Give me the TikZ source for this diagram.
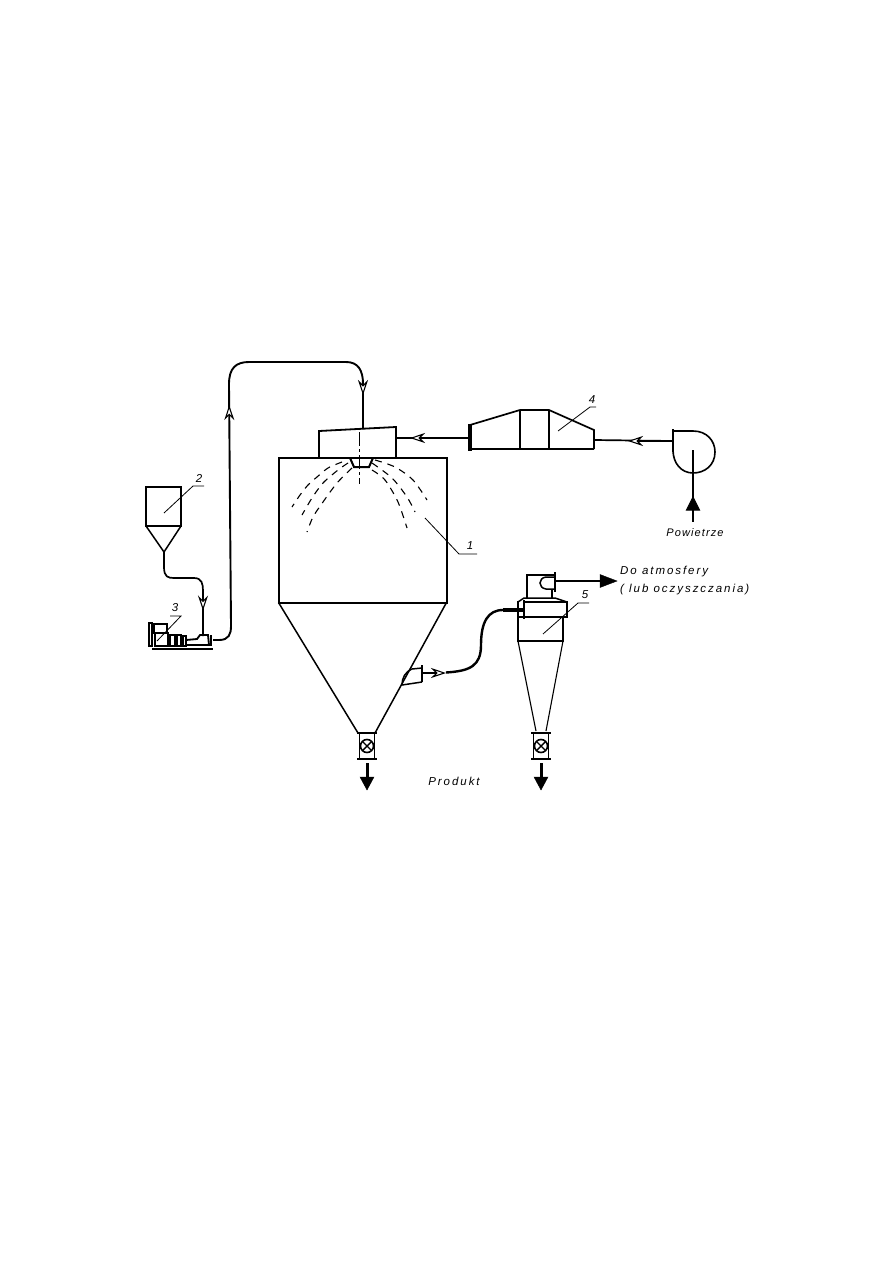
\documentclass[tikz,border=0pt]{standalone}
\usepackage{fontspec}
\setmainfont{Liberation Sans}
\usetikzlibrary{arrows.meta, decorations.markings}
\begin{document}
\begin{tikzpicture}[
    x=1pt, y=-1pt,
    wall/.style={draw=black, line width=1.5pt},
    thin wall/.style={draw=black, line width=1.1pt},
    box/.style={rectangle, wall, inner sep=0pt, outer sep=0pt},
    pipe/.style={draw=black, line width=1.7pt, rounded corners=1pt},
    heavy/.style={draw=black, line width=2.8pt},
    leader/.style={draw=black, line width=0.8pt},
    spray/.style={draw=black, line width=1.1pt, dash pattern=on 7pt off 6pt},
    axis line/.style={draw=black, line width=0.8pt, dash pattern=on 14pt off 3pt on 3pt off 3pt},
    openarr/.style={draw=black, line width=1.1pt, -{Stealth[open, fill=white, length=15pt, width=10pt, inset=5pt]}},
    flowmark/.style={postaction={decorate}, decoration={markings, mark=at position #1 with {\arrow[black, line width=1.1pt]{Stealth[open, fill=white, length=15pt, width=10pt, inset=5pt]}}}},
    tag/.style={font=\itshape\fontsize{11.5}{13}\selectfont\addfontfeature{LetterSpace=17}, inner sep=0pt},
]
\useasboundingbox (0,0) rectangle (893,1263);

% Spray chamber
\node[box, line width=2pt, minimum width=168, minimum height=145] (chamber) at (362.5,530) {};
\coordinate (coneL) at (358,733);
\coordinate (coneR) at (375,733);
\draw[wall] (chamber.south west) -- (coneL);
\draw[wall] (chamber.south east) -- (coneR);

% Head and nozzle
\coordinate (headNW) at (319,431);
\coordinate (headNE) at (396,427);
\coordinate (headIn) at (363,429);
\coordinate (headAir) at (396,438);
\draw[wall, line width=1.8pt] (319,457) -- (headNW) -- (headNE) -- (396,457);
\draw[wall, line width=2pt] (350,458) -- (354,467) -- (369,467) -- (373,458);
\draw[axis line] (359.5,432) -- (359.5,484);

% Sprays
\draw[spray] plot[smooth] coordinates {(342,462) (328,468) (317,477) (308,485) (300,495) (292,507)};
\draw[spray] plot[smooth] coordinates {(348,463) (338,470) (323,483) (312,498) (302,515)};
\draw[spray] plot[smooth] coordinates {(352,468) (337,483) (323,502) (313,517) (307,532)};
\draw[spray] plot[smooth] coordinates {(375,460) (395,467) (413,480) (427,500)};
\draw[spray] plot[smooth] coordinates {(372,463) (392,478) (407,497) (415,512)};
\draw[spray] plot[smooth] coordinates {(372,470) (385,480) (398,502) (407,528)};

% Hopper
\node[box, minimum width=35, minimum height=39] (hopper) at (163.5,506.5) {};
\coordinate (hopperOut) at (164,552);
\draw[wall] (hopper.south west) -- (hopperOut) -- (hopper.south east);

% Pump
\coordinate (pumpIn) at (203,636);
\coordinate (pumpOut) at (213,640);
\draw[wall, line width=2.4pt] (152,649) -- (213,649);
\draw[wall, line width=2.2pt] (149,623) rectangle (152,646);
\draw[wall, line width=1.8pt] (154,624) rectangle (167,633);
\draw[wall, line width=1.6pt] (155,633) rectangle (168,646);
\draw[wall, line width=1.6pt] (170,635) rectangle (175,646);
\draw[wall, line width=1.6pt] (177,635) rectangle (181,646);
\draw[wall, line width=1.6pt] (183,636) rectangle (186,646);
\draw[wall, line width=1.8pt] (186,640) -- (197,639) -- (200,635) -- (208,635) -- (209,645) -- (186,645);
\draw[heavy] (211,635) -- (211,646);

% Feed lines
\draw[pipe, flowmark=0.78] (hopperOut) -- (164,566) .. controls (164,577) and (168,578) .. (175,578) -- (193,578) .. controls (202,578) and (203,584) .. (203,592) -- (pumpIn);
\draw[pipe, line width=1.9pt, flowmark=0.52] (pumpOut) -- (218,640) .. controls (229,640) and (231,634) .. (231,625) -- (229,385) .. controls (229,368) and (236,362) .. (250,362) -- (345,362) .. controls (358,362) and (363,370) .. (363,385) -- (headIn);
\draw[openarr] (363,380) -- (363,395);

% Dryer air line
\node[box, minimum width=2.4, minimum height=25, fill=black] (ductFlange) at (470,437.5) {};
\coordinate (ductOut) at (470,438);
\coordinate (ductIn) at (594,440);
\draw[wall, line width=1.7pt] (470,425) -- (520,410) -- (549,410) -- (594,430) -- (594,449);
\draw[wall, line width=2.2pt] (470,449) -- (594,449);
\draw[wall] (520,410) -- (520,449);
\draw[wall, line width=2.2pt] (549,410) -- (549,449);
\draw[heavy] (ductOut) -- (headAir);
\draw[openarr] (426,438) -- (410,438);

% Fan
\coordinate (fanOut) at (673,441);
\coordinate (fanEye) at (693,450);
\coordinate (airIn) at (693,522);
\draw[heavy, line width=2.4pt] (673,429) -- (673,452);
\draw[wall, line width=1.6pt] (673,431) -- (693,431) .. controls (707,431) and (715,441) .. (715,452) .. controls (715,465) and (705,473) .. (693,473) .. controls (681,473) and (673,463) .. (673,450);
\draw[pipe] (fanOut) -- (ductIn);
\draw[heavy, line width=2.4pt] (fanOut) -- (646,441);
\draw[openarr] (646,441) -- (628,441);
\draw[heavy, line width=2.6pt] (fanEye) -- (693,500);
\draw[black, line width=1.2pt] (693,505) -- (airIn);
\draw[black, line width=1pt, fill=black] (693,497) -- (699.5,510) -- (686.5,510) -- cycle;

% Cyclone
\node[box, minimum width=45, minimum height=24] (barrel) at (540.5,629) {};
\coordinate (coneCL) at (536,731);
\coordinate (coneCR) at (546,731);
\draw[thin wall] (barrel.south west) -- (coneCL);
\draw[thin wall] (barrel.south east) -- (coneCR);
\draw[wall] (518,601) -- (barrel.north west);
\draw[wall, line width=1.8pt] (524,602) -- (567,602) -- (567,617) -- (524,617);
\draw[wall] (518,602) -- (524,598) -- (555,598) -- (567,602);
\draw[heavy] (524,600) -- (524,619);
\coordinate (cycIn) at (524,610);

% Cyclone outlet
\draw[wall] (527,598) -- (527,575) -- (555,575);
\draw[heavy] (555,572) -- (555,592);
\draw[wall] (555,577) -- (546,577) .. controls (538,578) and (538,588) .. (546,589) -- (555,589);
\draw[wall] (552,589) -- (552,598);
\coordinate (ventOut) at (555,581);
\coordinate (vent) at (617,581);
\draw[heavy] (ventOut) -- (604,581);
\draw[black, fill=black] (vent) -- (600,574.5) -- (600,587.5) -- cycle;

% Chamber outlet
\draw[wall] (422,668) -- (412,669) .. controls (405,672) and (402,678) .. (402,685) -- (422,682);
\draw[heavy, line width=2.4pt] (422,665) -- (422,682);
\coordinate (chamOut) at (422,673);
\draw[heavy, line width=2.4pt] (chamOut) -- (435,673);
\draw[openarr] (431,673) -- (446,673);
\draw[black, line width=2.4pt] (446,672.5) .. controls (470,671) and (481,666) .. (481,645) .. controls (481,622) and (488,610) .. (503,610) -- (cycIn);
\draw[black, line width=3.4pt] (503,610) -- (cycIn);

% Valves and product
\foreach \vx/\vname in {367/chamber, 541/cyclone} {
    \coordinate (\vname Valve) at (\vx,746);
    \draw[black, line width=1.8pt] (\vx-10,733) -- (\vx+10,733);
    \draw[black, line width=1.8pt] (\vx-10,759) -- (\vx+10,759);
    \draw[black, line width=1.6pt] (\vx-7.5,733) -- (\vx-7.5,759);
    \draw[black, line width=1.6pt] (\vx+7.5,733) -- (\vx+7.5,759);
    \draw[black, fill=white, line width=1.6pt] (\vname Valve) circle (6.5pt);
    \draw[black, line width=1.4pt] (\vx-4.5,741.5) -- (\vx+4.5,750.5);
    \draw[black, line width=1.4pt] (\vx-4.5,750.5) -- (\vx+4.5,741.5);
    \coordinate (\vname Drop) at (\vx,790);
    \draw[black, line width=3pt] (\vx,763) -- (\vx,780);
    \draw[black, fill=black] (\vname Drop) -- (\vx-7,777) -- (\vx+7,777) -- cycle;
}

% Labels
\draw[leader] (425,518) -- (459,554) -- (477,554);
\node[tag] (lab1) at (470,546) {1};
\draw[leader] (164,513) -- (193,486) -- (204,486);
\node[tag] (lab2) at (199,478) {2};
\draw[leader] (157,641) -- (181,616) -- (170,616);
\node[tag] (lab3) at (175,608) {3};
\draw[leader] (558,431) -- (590,407) -- (596,407);
\node[tag] (lab4) at (592,400) {4};
\draw[leader] (543,634) -- (578,603) -- (589,603);
\node[tag] (lab5) at (585,595) {5};

\node[tag, font=\itshape\fontsize{11}{13}\selectfont\addfontfeature{LetterSpace=10}] (air) at (695,533) {Powietrze};
\node[tag, anchor=west] (atm) at (620,572) {Do atmosfery};
\node[tag, anchor=west] (clean) at (620,590) {( lub oczyszczania)};
\node[tag] (prod) at (454,781) {Produkt};
\end{tikzpicture}
\end{document}
